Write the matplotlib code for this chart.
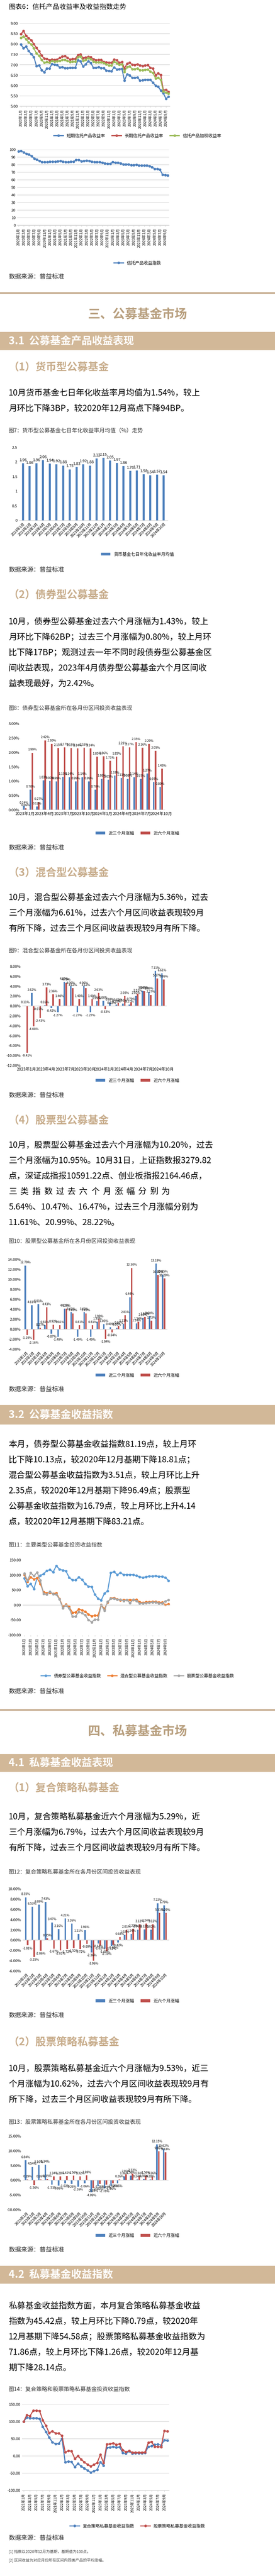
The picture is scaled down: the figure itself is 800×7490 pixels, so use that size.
import matplotlib
matplotlib.use("Agg")
import matplotlib.pyplot as plt
from matplotlib.lines import Line2D

plt.rcParams["font.family"] = ["Noto Sans CJK SC", "DejaVu Sans"]
plt.rcParams["axes.unicode_minus"] = False

W, H = 800, 7490
BLUE, RED, GREEN = "#4f81bd", "#c0504d", "#9bbb59"
ORANGE, GRAY, LBLUE = "#ed7d31", "#a5a5a5", "#5b9bd5"
GOLD, BAND, SUB = "#b89f7e", "#d2b898", "#c8ad8c"

# ---------------- data ----------------
trust_months = [f"{y}年{m}月" for y in range(2020, 2025) for m in range(1, 13)][:58]
trust_short = [7.98, 7.80, 7.88, 7.67, 7.52, 7.38, 6.95, 6.98, 6.75, 6.64,
               6.82, 6.82, 7.04, 7.00, 6.99, 6.88, 6.89, 6.84, 6.84, 6.86,
               6.86, 6.86, 7.22, 7.17, 6.92, 7.02, 7.18, 7.09, 6.86, 6.86,
               6.89, 6.84, 6.84, 6.72, 6.71, 6.70, 6.88, 6.78, 6.80, 6.81,
               6.24, 6.55, 6.49, 6.37, 6.37, 6.40, 6.24, 6.26, 6.28, 6.28,
               6.28, 6.14, 6.00, 5.95, 5.76, 5.63, 5.37, 5.46]
trust_long = [8.48, 8.64, 8.40, 8.29, 8.19, 8.01, 7.82, 7.66, 7.45, 7.30,
              7.29, 7.23, 7.26, 7.24, 7.26, 7.34, 7.40, 7.43, 7.34, 7.26,
              7.29, 7.29, 7.47, 7.51, 7.33, 7.36, 7.39, 7.37, 7.28, 7.23,
              7.24, 7.24, 7.14, 7.13, 7.10, 7.10, 7.25, 7.22, 7.11, 7.14,
              6.83, 7.06, 7.10, 7.01, 6.99, 7.03, 6.97, 6.95, 6.97, 6.99,
              6.86, 6.82, 6.50, 6.59, 6.51, 5.78, 5.80, 5.70]
trust_weighted = [8.31, 8.37, 8.24, 8.09, 7.99, 7.80, 7.55, 7.44, 7.24, 7.10,
                  7.14, 7.10, 7.19, 7.16, 7.17, 7.19, 7.24, 7.24, 7.19, 7.14,
                  7.15, 7.15, 7.38, 7.40, 7.19, 7.24, 7.33, 7.28, 7.15, 7.12,
                  7.13, 7.12, 7.09, 7.02, 6.98, 6.97, 7.15, 7.08, 7.01, 7.03,
                  6.66, 6.90, 6.92, 6.80, 6.80, 6.83, 6.75, 6.74, 6.76, 6.77,
                  6.68, 6.61, 6.34, 6.38, 6.27, 5.72, 5.67, 5.62]
trust_index = [97.5, 98, 96.5, 94.5, 93.5, 91.5, 88, 87, 85, 83.5,
               83.5, 83.5, 84, 84, 84, 84.5, 85, 84, 83.5, 83.5,
               84, 84, 86.5, 86.5, 84.5, 85, 85.5, 85, 84, 83.5,
               83.5, 83.5, 82.5, 82, 81.5, 81.5, 83.5, 82.5, 82.5, 82,
               80.5, 80.5, 80.5, 79.5, 79.5, 80, 79, 79, 79, 79,
               78, 77, 74.5, 74.5, 73.5, 67, 66.5, 66]

bar_months = [f"{y}年{m}月" for y in (2023, 2024) for m in range(1, 13)][:22]
money_7d = [1.96, 1.86, 1.96, 2.06, 1.94, 1.92, 1.88, 1.75, 1.83, 1.92, 1.88,
            2.12, 2.15, 2.05, 1.97, 1.86, 1.70, 1.71, 1.58, 1.54, 1.57, 1.54]
bond_3m = [0.14, 0.70, 0.12, 1.03, 1.00, 0.99, 1.15, 1.14, 0.99, 1.14, 0.99,
           0.70, 1.08, 1.05, 1.19, 1.11, 1.08, 1.14, 1.07, 1.27, 0.97, 0.80]
bond_6m = [0.06, 1.99, 0.27, 2.42, 2.30, 2.15, 2.17, 2.15, 2.14, 2.16, 2.14,
           1.85, 1.86, 1.71, 1.85, 2.21, 2.17, 2.35, 2.16, 2.29, 2.05, 1.43]
mixed_3m = [0.11, 2.62, -0.07, 0.16, -0.42, -1.27, 4.85, 4.06, -1.27, 4.06, -1.27,
            0.99, 1.06, 0.69, 0.28, 0.51, 0.27, 2.02, 3.04, 2.89, 7.11, 6.61]
mixed_6m = [-9.41, -4.08, -2.43, 3.73, 2.36, 1.40, 4.70, 3.62, 1.40, 3.62, 1.40,
            2.63, -0.63, 0.02, 0.61, 2.05, 0.79, 2.52, 3.03, 2.27, 5.57, 5.36]
stock_3m = [12.79, 4.81, 5.01, 0.81, -0.87, -1.49, 4.12, 3.42, -1.49, 3.42, -1.49,
            1.53, 1.03, 0.40, 0.30, 1.11, 6.44, 1.14, 2.28, 2.60, 13.19, 10.95]
stock_6m = [-1.19, -2.16, 0.27, 4.43, 0.92, 0.81, 4.13, 3.20, 0.81, 3.20, 0.81,
            1.99, -1.94, -0.64, 0.66, 2.81, 12.30, 1.54, 2.50, 1.73, 10.89, 10.20]
pf_mix_3m = [8.35, 6.53, 6.89, 7.43, 3.47, 2.16, 4.21, 3.26, 1.21, 1.96, -2.36,
             -0.64, -1.68, -1.12, -0.42, 1.02, 1.24, 2.06, 2.12, 2.02, 7.22, 6.79]
pf_mix_6m = [-1.01, -3.25, -2.06, 0.35, -1.67, -2.01, -1.72, -1.52, -1.72, -0.69, -3.96,
             -1.02, -2.10, -0.89, 0.64, 2.01, 2.22, 3.12, 3.24, 3.12, 5.31, 5.29]
pf_stock_3m = [6.84, 4.54, 5.16, 5.34, -1.53, -1.86, -1.02, -1.26, -2.16, -1.06, -4.09,
               -2.06, -2.78, -1.96, -0.96, 1.36, 1.56, 0.24, 0.36, 0.28, 12.15, 10.62]
pf_stock_6m = [0.29, -1.56, 0.26, 0.35, 1.34, 1.28, 1.42, 1.56, 1.32, 1.69, -2.64,
               -1.26, -1.45, -1.02, 0.26, 2.02, 2.32, 1.34, 1.56, 1.26, 9.86, 9.53]

idx_months = [f"{y}年{m}月" for y in range(2021, 2025) for m in range(1, 13)][:46]
fund_bond_idx = [89, 63, 71, 54, 90, 98, 104, 114, 118, 110, 131, 119, 116, 113, 92, 83,
                 83, 93, 85, 71, 62, 61, 35, 22, 16, 39, 47, 108, 111, 101, 107, 101,
                 101, 101, 101, 98, 94, 92, 94, 96, 96, 97, 95, 95, 92, 81.19]
fund_mixed_idx = [101, 78, 93, 86, 90, 71, 43, 40, 41, 38, 40, 20, -5, 2, -6, -25,
                  -24, -14, -17, -22, -31, -37, -35, -35, 1, -13, 9, 23, 24, 19, 16, 17,
                  17, 17, 17, 18, 10, 8, 10, 10, 11, 11, 9, 9, 1, 3.51]
fund_stock_idx = [105, 82, 107, 97, 109, 82, 38, 35, 45, 36, 35, 19, -10, -1, -11, -38,
                  -38, -23, -27, -34, -49, -57, -48, -48, 0, -19, 11, 21, 21, 18, 18, 14,
                  17, 7, 18, 13, 5, 6, 7, 8, 9, 9, 6, 6, 12.65, 16.79]
pf_mix_idx = [100, 112, 110, 110, 110, 108, 85, 70, 54, 40, 35, 36, 50, -18, -16, -17,
              -32, -22, -30, -36, -42, -48, -44, -40, -18, -28, 24, 25, 27, 25, 26, 9,
              7, 14, 7, 8, 8, 8, 9, 27, 29, 33, 34, 31, 46.21, 45.42]
pf_stock_idx = [100, 119, 116, 132, 132, 131, 104, 88, 67, 72, 66, 66, 59, 11, 15, 14,
                -8, 0, -10, -18, -25, -30, -25, -20, 4, -20, 34, 35, 37, 33, 35, 17,
                12, 15, 10, 10, 10, 10, 11, 39, 41, 27, 27, 26, 73.12, 71.86]

fig = plt.figure(figsize=(W / 100, H / 100), dpi=100)


def fy(y):
    return 1 - y / H


def axes_px(left, top, right, bottom):
    return fig.add_axes([left / W, fy(bottom), (right - left) / W, (bottom - top) / H])


def text(x, y, s, size, color="black", weight="normal", ha="left"):
    fig.text(x / W, fy(y), s, fontsize=size, color=color, fontweight=weight, ha=ha, va="center")


def body(y0, lines, gap=45):
    for i, ln in enumerate(lines):
        text(25, y0 + i * gap, ln, 17.5)


def section(y, s):
    fig.add_artist(Line2D([0, 1], [fy(y), fy(y)], color="#bfa382", lw=3))
    text(W / 2, y + 62, s, 26, GOLD, "bold", "center")


def band(top, bottom, s):
    fig.add_artist(plt.Rectangle((0, fy(bottom)), 1, (bottom - top) / H, color=BAND, lw=0))
    text(25, (top + bottom) / 2, s, 22, "white", "bold")


def source(y):
    text(25, y, "数据来源：普益标准", 13, "#222222")


def legend(ax, y, ncol=3, size=9):
    ax.legend(loc="center", bbox_to_anchor=(0.5, fy(y)), bbox_transform=fig.transFigure,
              ncol=ncol, frameon=False, fontsize=size, handlelength=2.2, columnspacing=1.5)


def clean(ax):
    for sp in ["top", "right", "left"]:
        ax.spines[sp].set_visible(False)
    ax.spines["bottom"].set_color("#d0d0d0")
    ax.tick_params(axis="y", length=0, labelsize=8)
    ax.tick_params(axis="x", labelsize=7.5)


def line_chart(rect, cats, series, ylim, yticks, fmt, step, legend_y, grid=True):
    ax = axes_px(*rect)
    x = range(len(cats))
    for vals, col, lab in series:
        ax.plot(x, vals, color=col, lw=2.2, marker="o", ms=4.5, label=lab)
    ax.set_ylim(*ylim)
    ax.set_yticks(yticks)
    ax.set_yticklabels([fmt.format(v) for v in yticks])
    ax.set_xlim(-0.5, len(cats) - 0.5)
    ax.set_xticks(list(x)[::step])
    ax.set_xticklabels(cats[::step], rotation=90)
    if grid:
        ax.grid(axis="y", color="#d9d9d9", lw=1.2)
    ax.set_axisbelow(True)
    clean(ax)
    ax.tick_params(axis="x", length=3, color="#d0d0d0")
    legend(ax, legend_y)
    return ax


def bar_labels(ax, xs, vals, size=6.5):
    for xx, v in zip(xs, vals):
        ax.annotate(f"{v:.2f}%", (xx, v), xytext=(0, 3 if v >= 0 else -3),
                    textcoords="offset points", ha="center",
                    va="bottom" if v >= 0 else "top", fontsize=size)


def pair_bars(rect, s3, s6, ylim, ystep, legend_y, rotate):
    ax = axes_px(*rect)
    x = list(range(len(bar_months)))
    ax.bar([i - 0.14 for i in x], s3, 0.24, color=BLUE, label="近三个月涨幅")
    ax.bar([i + 0.14 for i in x], s6, 0.24, color=RED, label="近六个月涨幅")
    bar_labels(ax, [i - 0.14 for i in x], s3)
    bar_labels(ax, [i + 0.14 for i in x], s6)
    yt = [ylim[0] + k * ystep for k in range(int(round((ylim[1] - ylim[0]) / ystep)) + 1)]
    ax.set_ylim(*ylim)
    ax.set_yticks(yt)
    ax.set_yticklabels([f"{v:.2f}%" for v in yt])
    ax.set_xlim(-0.6, len(x) - 0.4)
    clean(ax)
    ax.spines["bottom"].set_visible(False)
    ax.axhline(0, color="#d0d0d0", lw=1.2)
    if rotate:
        ax.set_xticks(x)
        ax.set_xticklabels(bar_months, rotation=45, ha="right", rotation_mode="anchor")
        ax.tick_params(axis="x", length=0)
    else:
        ax.set_xticks(x[::3])
        ax.set_xticklabels(bar_months[::3])
        ax.tick_params(axis="x", length=0, labelsize=8.5)
    legend(ax, legend_y, 2)
    return ax


# ---------------- page ----------------
text(25, 20, "图表6：信托产品收益率及收益指数走势", 14)
line_chart((57, 68, 494, 309), trust_months,
           [(trust_short, BLUE, "短期信托产品收益率"), (trust_long, RED, "长期信托产品收益率"),
            (trust_weighted, GREEN, "信托产品加权收益率")],
           (5, 9), [5 + 0.5 * k for k in range(9)], "{:.2f}", 2, 395)
line_chart((50, 435, 492, 655), trust_months, [(trust_index, BLUE, "信托产品收益指数")],
           (0, 100), list(range(0, 101, 10)), "{:d}", 2, 765)
source(805)

section(852, "三、公募基金市场")
band(965, 1018, "3.1  公募基金产品收益表现")
text(25, 1068, "（1）货币型公募基金", 22, SUB, "bold")
body(1143, ["10月货币基金七日年化收益率月均值为1.54%，较上",
            "月环比下降3BP，较2020年12月高点下降94BP。"])
text(25, 1253, "图7：货币型公募基金七日年化收益率月均值（%）走势", 11.5, "#333333")
ax = axes_px(55, 1301, 488, 1513)
xs = list(range(len(bar_months)))
ax.bar(xs, money_7d, 0.32, color=BLUE, label="货币基金七日年化收益率月均值")
for xx, v in zip(xs, money_7d):
    ax.annotate(f"{v:.2f}", (xx, v), xytext=(0, 3), textcoords="offset points",
                ha="center", va="bottom", fontsize=8)
ax.set_ylim(0, 2.5)
ax.set_yticks([0, 0.5, 1, 1.5, 2, 2.5])
ax.set_yticklabels(["0", "0.5", "1", "1.5", "2", "2.5"])
ax.set_xlim(-0.6, len(xs) - 0.4)
ax.set_xticks(xs)
ax.set_xticklabels(bar_months, rotation=45, ha="right", rotation_mode="anchor")
clean(ax)
ax.tick_params(axis="x", length=0)
legend(ax, 1612, 1)
source(1657)

text(25, 1730, "（2）债券型公募基金", 22, SUB, "bold")
body(1808, ["10月，债券型公募基金过去六个月涨幅为1.43%，较上",
            "月环比下降62BP；过去三个月涨幅为0.80%，较上月环",
            "比下降17BP；观测过去一年不同时段债券型公募基金区",
            "间收益表现，2023年4月债券型公募基金六个月区间收",
            "益表现最好，为2.42%。"])
text(25, 2060, "图8：债券型公募基金所在各月份区间投资收益表现", 11.5, "#333333")
pair_bars((61, 2104, 480, 2355), bond_3m, bond_6m, (0, 3), 0.5, 2423, False)
source(2465)

text(25, 2537, "（3）混合型公募基金", 22, SUB, "bold")
body(2610, ["10月，混合型公募基金过去六个月涨幅为5.36%，过去",
            "三个月涨幅为6.61%，过去六个月区间收益表现较9月",
            "有所下降，过去三个月区间收益表现较9月有所下降。"])
text(25, 2765, "图9：混合型公募基金所在各月份区间投资收益表现", 11.5, "#333333")
pair_bars((65, 2810, 485, 3098), mixed_3m, mixed_6m, (-12, 8), 2, 3142, False)
source(3185)

text(25, 3258, "（4）股票型公募基金", 22, SUB, "bold")
body(3330, ["10月，股票型公募基金过去六个月涨幅为10.20%，过去",
            "三个月涨幅为10.95%。10月31日，上证指数报3279.82",
            "点，深证成指报10591.22点、创业板指报2164.46点，"])
spread = "三类指数过去六个月涨幅分别为"
for i, ch in enumerate(spread):
    text(25 + i * (470 - 25) / (len(spread) - 1), 3465, ch, 17.5)
body(3510, ["5.64%、10.47%、16.47%，过去三个月涨幅分别为",
            "11.61%、20.99%、28.22%。"])
text(25, 3610, "图10：股票型公募基金所在各月份区间投资收益表现", 11.5, "#333333")
pair_bars((65, 3662, 487, 3923), stock_3m, stock_6m, (-4, 14), 2, 3999, True)
source(4040)

band(4085, 4142, "3.2  公募基金收益指数")
body(4200, ["本月，债券型公募基金收益指数81.19点，较上月环",
            "比下降10.13点，较2020年12月基期下降18.81点；",
            "混合型公募基金收益指数为3.51点，较上月环比上升",
            "2.35点，较2020年12月基期下降96.49点；股票型",
            "公募基金收益指数为16.79点，较上月环比上升4.14",
            "点，较2020年12月基期下降83.21点。"])
text(25, 4493, "图11：主要类型公募基金投资收益指数", 11.5, "#333333")
ax = line_chart((66, 4536, 495, 4754), idx_months,
                [(fund_bond_idx, LBLUE, "债券型公募基金收益指数"),
                 (fund_mixed_idx, ORANGE, "混合型公募基金收益指数"),
                 (fund_stock_idx, GRAY, "股票型公募基金收益指数")],
                (-100, 150), [-100, -50, 0, 50, 100, 150], "{:.2f}", 2, 4873, grid=False)
ax.spines["bottom"].set_visible(False)
ax.axhline(0, color="#d0d0d0", lw=1.2)
source(4918)

section(4972, "四、私募基金市场")
band(5100, 5152, "4.1  私募基金收益表现")
text(25, 5200, "（1）复合策略私募基金", 22, SUB, "bold")
body(5283, ["10月，复合策略私募基金近六个月涨幅为5.29%，近",
            "三个月涨幅为6.79%，过去六个月区间收益表现较9月",
            "有所下降，过去三个月区间收益表现较9月有所下降。"])
text(25, 5443, "图12：复合策略私募基金所在各月份区间投资收益表现", 11.5, "#333333")
pair_bars((66, 5492, 492, 5731), pf_mix_3m, pf_mix_6m, (-6, 10), 2, 5818, True)
source(5860)

text(25, 5938, "（2）股票策略私募基金", 22, SUB, "bold")
body(6015, ["10月，股票策略私募基金近六个月涨幅为9.53%，近三",
            "个月涨幅为10.62%，过去六个月区间收益表现较9月有",
            "所下降，过去三个月区间收益表现较9月有所下降。"])
text(25, 6170, "图13：股票策略私募基金所在各月份区间投资收益表现", 11.5, "#333333")
pair_bars((66, 6211, 490, 6425), pf_stock_3m, pf_stock_6m, (-10, 15), 5, 6500, True)
source(6542)

band(6588, 6640, "4.2  私募基金收益指数")
body(6705, ["私募基金收益指数方面，本月复合策略私募基金收益",
            "指数为45.42点，较上月环比下降0.79点，较2020年",
            "12月基期下降54.58点；股票策略私募基金收益指数为",
            "71.86点，较上月环比下降1.26点，较2020年12月基",
            "期下降28.14点。"])
text(25, 6947, "图14：复合策略和股票策略私募基金投资收益指数", 11.5, "#333333")
line_chart((64, 6991, 492, 7241), idx_months,
           [(pf_mix_idx, BLUE, "复合策略私募基金收益指数"),
            (pf_stock_idx, RED, "股票策略私募基金收益指数")],
           (-100, 150), [-100, -50, 0, 50, 100, 150], "{:.2f}", 2, 7345)
source(7380)
text(25, 7420, "[1] 指数以2020年12月为基期，基期值为100点。", 8, "#444444")
text(25, 7445, "[2] 区间收益为对应月份所在区间内同类产品的平均涨幅。", 8, "#444444")

fig.savefig("out.png", dpi=100)
